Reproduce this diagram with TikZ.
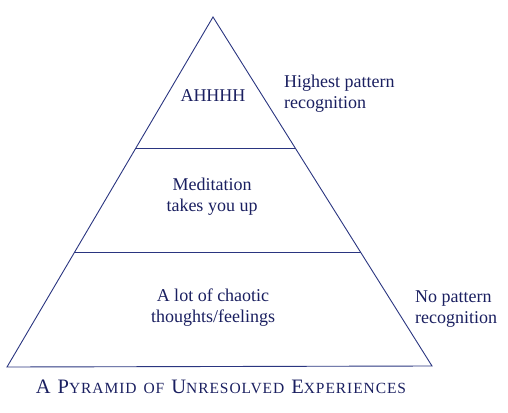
\documentclass[tikz,border=0pt]{standalone}
\usepackage{fontspec}
\setmainfont{Liberation Serif}
\newfontfamily\capfont[LetterSpace=6]{Liberation Serif}
\definecolor{navy}{HTML}{1A1F60}
\definecolor{linecol}{HTML}{2A3580}
\newcommand{\bigc}[1]{{\capfont\fontsize{20.5}{22}\selectfont #1}}
\newcommand{\smc}[1]{{\capfont\fontsize{15.5}{22}\selectfont #1}}
\newcommand{\wsp}{\hspace{7pt}}
\begin{document}
\begin{tikzpicture}[x=1pt,y=-1pt,
  lbl/.style={text=navy,font=\fontsize{18}{21}\selectfont,align=center,inner sep=0pt},
  side/.style={lbl,align=left,anchor=west},
  edge/.style={draw=linecol,line width=0.9pt}]
\useasboundingbox (0,0) rectangle (508,412);
\coordinate (apex) at (213,17);
\coordinate (bl) at (7,367);
\coordinate (br) at (432,366);
\coordinate (l1) at (136,148);
\coordinate (r1) at (295,148);
\coordinate (l2) at (75,252);
\coordinate (r2) at (361,252);
\draw[edge,line join=miter] (apex) -- (br) -- (bl) -- cycle;
\draw[edge] (l1) -- (r1);
\draw[edge] (l2) -- (r2);
\node[lbl] (top) at (213,96) {AHHHH};
\node[lbl] (mid) at (212,197) {Meditation\\takes you up};
\node[lbl] (bot) at (213,308) {A lot of chaotic\\thoughts/feelings};
\node[side] (hi) at (284,94) {Highest pattern\\recognition};
\node[side] (no) at (415,309) {No pattern\\recognition};
\node[lbl] (cap) at (221,387) {\bigc{A}\wsp\bigc{P}\smc{YRAMID}\wsp\smc{OF}\wsp\bigc{U}\smc{NRESOLVED}\wsp\bigc{E}\smc{XPERIENCES}};
\end{tikzpicture}
\end{document}
